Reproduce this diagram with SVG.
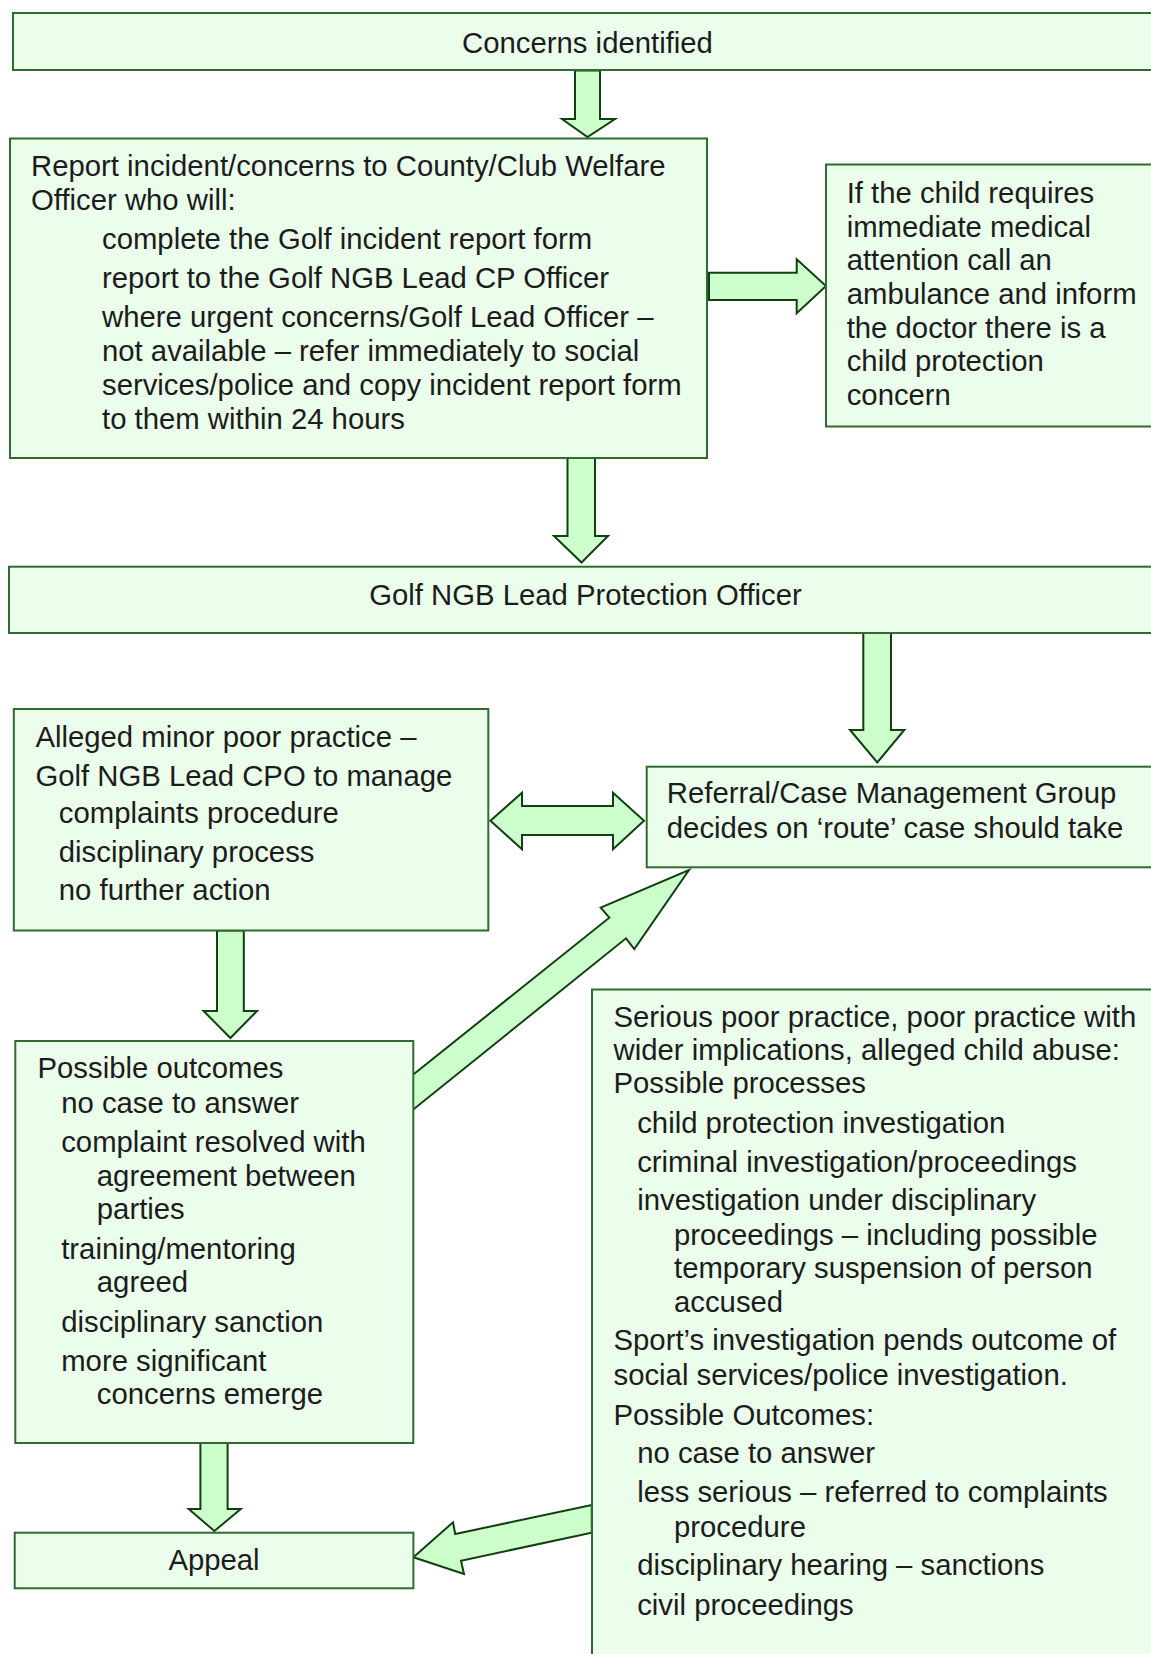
<svg xmlns="http://www.w3.org/2000/svg" width="1151" height="1654" viewBox="0 0 1151 1654">
<defs>
<style>
.box{fill:#ebfdeb;stroke:#2f6b2f;stroke-width:2}
.arr{fill:#ccffcc;stroke:#123f12;stroke-width:2;stroke-linejoin:miter}
text{font-family:"Liberation Sans",Arial,sans-serif;font-size:29.3px;fill:#1c1c1c}
.c{text-anchor:middle}
</style>
</defs>
<rect width="1151" height="1654" fill="#ffffff"/>
<g id="connectors">
<polygon class="arr" points="575,70.5 600,70.5 600,119 615,119 587.5,137 562,119 575,119"/>
<polygon class="arr" points="709,272.7 796.7,272.7 796.7,259.3 826,286 796.7,313.3 796.7,300 709,300"/>
<polygon class="arr" points="567.5,457 595,457 595,536 608,536 581.5,562.5 554,536 567.5,536"/>
<polygon class="arr" points="863.3,632 891,632 891,730 904.3,730 877.3,762.5 850,730 863.3,730"/>
<polygon class="arr" points="490.4,820.7 522,792.7 522,806 613,806 613,792.7 644,820.7 613,849.3 613,835 522,835 522,849.3"/>
<polygon class="arr" points="412.7,1075 609.3,917.7 600.7,907.7 689,870 634.3,949 626,938.3 412.7,1110"/>
<polygon class="arr" points="217,930.5 243.8,930.5 243.8,1011 257,1011 230.4,1038 203.6,1011 217,1011"/>
<polygon class="arr" points="200.4,1443 227.6,1443 227.6,1509 240.8,1509 214.4,1531 188.7,1509 200.4,1509"/>
<polygon class="arr" points="413.4,1557.3 453,1522.3 455.2,1534 591.8,1505 591.8,1532.7 461,1560.7 464,1574"/>
</g>
<g id="node-concerns">
<rect class="box" x="13" y="13" width="1150" height="57"/>
<text class="c" x="587.5" y="53">Concerns identified</text>
</g>
<g id="node-report">
<rect class="box" x="10" y="138.5" width="697" height="319.5"/>
<text x="31" y="175.5">Report incident/concerns to County/Club Welfare</text>
<text x="31" y="209.5">Officer who will:</text>
<text x="102" y="249">complete the Golf incident report form</text>
<text x="102" y="288">report to the Golf NGB Lead CP Officer</text>
<text x="102" y="327">where urgent concerns/Golf Lead Officer –</text>
<text x="102" y="361">not available – refer immediately to social</text>
<text x="102" y="395">services/police and copy incident report form</text>
<text x="102" y="429">to them within 24 hours</text>
</g>
<g id="node-medical">
<rect class="box" x="826" y="164.5" width="340" height="262"/>
<text x="846.7" y="203">If the child requires</text>
<text x="846.7" y="236.7">immediate medical</text>
<text x="846.7" y="270.3">attention call an</text>
<text x="846.7" y="304">ambulance and inform</text>
<text x="846.7" y="337.7">the doctor there is a</text>
<text x="846.7" y="371.3">child protection</text>
<text x="846.7" y="405">concern</text>
</g>
<g id="node-lead">
<rect class="box" x="9" y="566.7" width="1160" height="66.3"/>
<text class="c" x="585.5" y="605">Golf NGB Lead Protection Officer</text>
</g>
<g id="node-referral">
<rect class="box" x="646.7" y="766.7" width="520" height="100.6"/>
<text x="666.8" y="803">Referral/Case Management Group</text>
<text x="666.8" y="838.3">decides on ‘route’ case should take</text>
</g>
<g id="node-minor">
<rect class="box" x="13.8" y="709" width="474.5" height="221.5"/>
<text x="35.4" y="746.7">Alleged minor poor practice –</text>
<text x="35.4" y="785.7">Golf NGB Lead CPO to manage</text>
<text x="58.8" y="823">complaints procedure</text>
<text x="58.8" y="861.7">disciplinary process</text>
<text x="58.8" y="900">no further action</text>
</g>
<g id="node-outcomes">
<rect class="box" x="15.3" y="1041" width="398" height="402"/>
<text x="37.5" y="1078">Possible outcomes</text>
<text x="61.2" y="1112.5">no case to answer</text>
<text x="61.2" y="1151.8">complaint resolved with</text>
<text x="96.8" y="1185.7">agreement between</text>
<text x="96.8" y="1219.3">parties</text>
<text x="61.2" y="1258.7">training/mentoring</text>
<text x="96.8" y="1292.3">agreed</text>
<text x="61.2" y="1331.7">disciplinary sanction</text>
<text x="61.2" y="1370.5">more significant</text>
<text x="96.8" y="1403.5">concerns emerge</text>
</g>
<g id="node-serious">
<rect class="box" x="592" y="989.5" width="580" height="690"/>
<text x="613.5" y="1026.7">Serious poor practice, poor practice with</text>
<text x="613.5" y="1060">wider implications, alleged child abuse:</text>
<text x="613.5" y="1093.3">Possible processes</text>
<text x="637.2" y="1133">child protection investigation</text>
<text x="637.2" y="1171.7">criminal investigation/proceedings</text>
<text x="637.2" y="1210">investigation under disciplinary</text>
<text x="674" y="1245">proceedings – including possible</text>
<text x="674" y="1278.3">temporary suspension of person</text>
<text x="674" y="1311.7">accused</text>
<text x="613.5" y="1350">Sport’s investigation pends outcome of</text>
<text x="613.5" y="1385">social services/police investigation.</text>
<text x="613.5" y="1425">Possible Outcomes:</text>
<text x="637.2" y="1463.3">no case to answer</text>
<text x="637.2" y="1501.7">less serious – referred to complaints</text>
<text x="674" y="1536.7">procedure</text>
<text x="637.2" y="1575">disciplinary hearing – sanctions</text>
<text x="637.2" y="1615">civil proceedings</text>
</g>
<g id="node-appeal">
<rect class="box" x="14.7" y="1532.7" width="398.7" height="55.6"/>
<text class="c" x="214" y="1570">Appeal</text>
</g>
</svg>
